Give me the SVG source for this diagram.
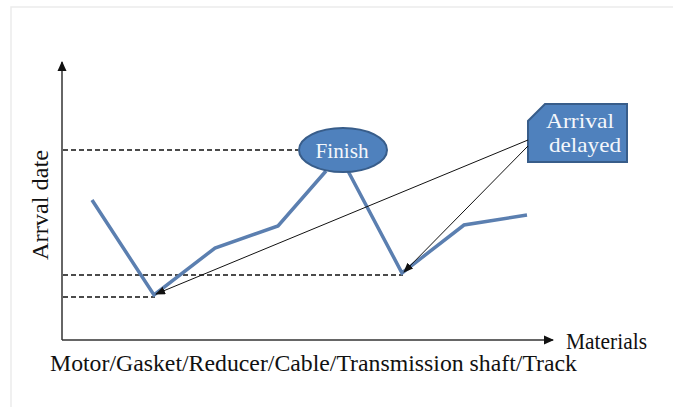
<svg xmlns="http://www.w3.org/2000/svg" width="673" height="407" viewBox="0 0 673 407">
<style>
.axis{stroke:#333;stroke-width:1.5;fill:none}
.dash{stroke:#111;stroke-width:1.3;stroke-dasharray:5,3;fill:none}
.data{stroke:#5B7FB0;stroke-width:3.5;fill:none;stroke-linejoin:miter}
.arrow{stroke:#111;stroke-width:1;fill:none}
.shape{fill:#4F81BD;stroke:#385D8A;stroke-width:2}
.lbl{font-family:"Liberation Serif","Times New Roman",serif;font-size:23px;fill:#111}
.wlbl{font-family:"Liberation Serif","Times New Roman",serif;font-size:22px;fill:#f4f7fb;text-anchor:middle}
</style>
<defs>
<marker id="ah" markerWidth="10" markerHeight="8" refX="9" refY="4" orient="auto" markerUnits="userSpaceOnUse">
<path d="M0,0 L10,4 L0,8 z" fill="#111"/>
</marker>
<marker id="axh" markerWidth="10" markerHeight="10" refX="9" refY="5" orient="auto" markerUnits="userSpaceOnUse">
<path d="M0,0.5 L10,5 L0,9.5 z" fill="#111"/>
</marker>
</defs>
<rect x="0" y="0" width="673" height="407" fill="#fff"/>
<rect x="11" y="7" width="670" height="410" fill="none" stroke="#ebebeb" stroke-width="1.5"/>
<g id="axes">
<line class="axis" x1="62" y1="340" x2="62" y2="62" marker-end="url(#axh)"/>
<line class="axis" x1="62" y1="340" x2="553" y2="340" marker-end="url(#axh)"/>
<text class="lbl" x="566" y="349" textLength="81" lengthAdjust="spacingAndGlyphs">Materials</text>
<text class="lbl" transform="translate(48,205) rotate(-90)" text-anchor="middle" textLength="110" lengthAdjust="spacingAndGlyphs">Arrval date</text>
<text class="lbl" x="50" y="371" textLength="527" lengthAdjust="spacingAndGlyphs">Motor/Gasket/Reducer/Cable/Transmission shaft/Track</text>
</g>
<g id="guides">
<line class="dash" x1="63" y1="150" x2="298" y2="150"/>
<line class="dash" x1="63" y1="275" x2="403" y2="275"/>
<line class="dash" x1="63" y1="297" x2="155" y2="297"/>
</g>
<g id="series">
<polyline class="data" points="92,200 154,295 215,248 278,226 326,171"/>
<polyline class="data" points="348,171 402,273 464,225 527,215"/>
</g>
<g id="finish">
<ellipse class="shape" cx="343" cy="150" rx="44" ry="22"/>
<text class="wlbl" x="342" y="158" textLength="53" lengthAdjust="spacingAndGlyphs">Finish</text>
</g>
<g id="arrival-delayed">
<path class="shape" d="M545,104 L627,104 L627,162 L528,162 L528,121 z"/>
<text class="wlbl" x="580" y="128" textLength="68" lengthAdjust="spacingAndGlyphs">Arrival</text>
<text class="wlbl" x="585" y="152" textLength="72" lengthAdjust="spacingAndGlyphs">delayed</text>
</g>
<g id="connectors">
<line class="arrow" x1="528" y1="140" x2="156" y2="294" marker-end="url(#ah)"/>
<line class="arrow" x1="528" y1="146" x2="404" y2="272" marker-end="url(#ah)"/>
</g>
</svg>
